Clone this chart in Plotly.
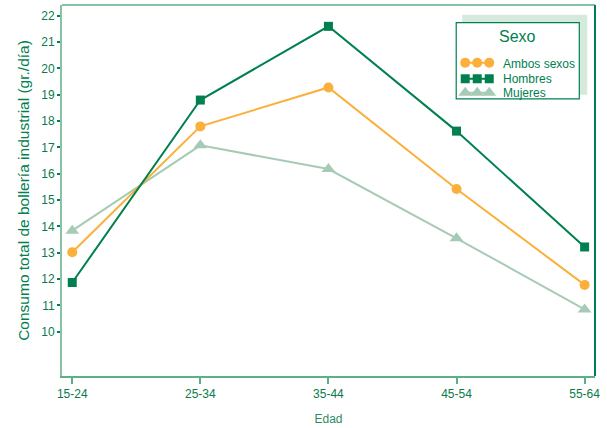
import plotly.graph_objects as go

edad = ["15-24", "25-34", "35-44", "45-54", "55-64"]
ambos = [13.02, 17.80, 19.28, 15.42, 11.78]
hombres = [11.87, 18.80, 21.60, 17.62, 13.22]
mujeres = [13.84, 17.08, 16.18, 13.55, 10.85]
yticks = [10, 11, 12, 13, 14, 15, 16, 17, 18, 19, 20, 21, 22]

DARK = "#00804F"
ORANGE = "#FBB03B"
LIGHT = "#A6CBB5"
TXT = "#0B7A4B"
FONT = "Liberation Sans, Arial, sans-serif"

xi = list(range(len(edad)))
fig = go.Figure()
fig.add_trace(go.Scatter(x=xi, y=mujeres, mode="lines+markers", name="Mujeres",
                         line=dict(color=LIGHT, width=2),
                         marker=dict(symbol="triangle-up", size=12, color=LIGHT)))
fig.add_trace(go.Scatter(x=xi, y=ambos, mode="lines+markers", name="Ambos sexos",
                         line=dict(color=ORANGE, width=2),
                         marker=dict(symbol="circle", size=10, color=ORANGE)))
fig.add_trace(go.Scatter(x=xi, y=hombres, mode="lines+markers", name="Hombres",
                         line=dict(color=DARK, width=2),
                         marker=dict(symbol="square", size=9, color=DARK)))

# custom legend glyphs on an overlay axis measured in pixels
lx = [465, 477, 489]
fig.add_trace(go.Scatter(x=lx, y=[63] * 3, xaxis="x2", yaxis="y2", mode="lines+markers",
                         line=dict(color=ORANGE, width=2),
                         marker=dict(symbol="circle", size=10, color=ORANGE), hoverinfo="skip"))
fig.add_trace(go.Scatter(x=lx, y=[79] * 3, xaxis="x2", yaxis="y2", mode="lines+markers",
                         line=dict(color=DARK, width=2),
                         marker=dict(symbol="square", size=9, color=DARK), hoverinfo="skip"))
fig.add_trace(go.Scatter(x=lx, y=[93] * 3, xaxis="x2", yaxis="y2", mode="lines+markers",
                         line=dict(color=LIGHT, width=2),
                         marker=dict(symbol="triangle-up", size=12, color=LIGHT), hoverinfo="skip"))

fig.update_layout(
    width=607, height=428,
    margin=dict(l=62, r=12, t=5, b=52),
    paper_bgcolor="white", plot_bgcolor="rgba(0,0,0,0)",
    showlegend=False,
    font=dict(family=FONT, color=TXT, size=12),
    xaxis=dict(range=[-0.08, 4.081], tickvals=xi, ticktext=edad, showgrid=False,
               zeroline=False, showline=True, linecolor="#5DAF86", linewidth=2,
               ticks="outside", ticklen=6, tickcolor="#5DAF86", tickwidth=1.5,
               tickfont=dict(size=12, color=TXT),
               title=dict(text="Edad", font=dict(size=12, color="#2E8B60"), standoff=14)),
    yaxis=dict(range=[8.32, 22.41], tickvals=yticks, showgrid=False, zeroline=False,
               showline=True, linecolor="#86C2A3", linewidth=2,
               ticks="outside", ticklen=3, tickcolor=DARK, tickwidth=2,
               tickfont=dict(size=12, color=TXT),
               title=dict(text="Consumo total de bollería industrial (gr./día)",
                          font=dict(size=15.5, color=DARK), standoff=8)),
    xaxis2=dict(range=[62, 594.7], overlaying="x", visible=False, fixedrange=True),
    yaxis2=dict(range=[376, 5.3], overlaying="y", visible=False, fixedrange=True),
    shapes=[
        dict(type="line", xref="paper", yref="paper", x0=0, x1=1, y0=1, y1=1,
             line=dict(color="#86C2A3", width=2)),
        dict(type="line", xref="paper", yref="paper", x0=1, x1=1, y0=0, y1=1,
             line=dict(color=DARK, width=2)),
        dict(type="rect", xref="x2", yref="y2", x0=462, x1=587, y0=15, y1=95,
             fillcolor="#D6E9DD", line=dict(width=0), layer="below"),
        dict(type="rect", xref="x2", yref="y2", x0=456, x1=579, y0=23, y1=99,
             fillcolor="white", line=dict(color=DARK, width=1.2), layer="below"),
    ],
    annotations=[
        dict(text="Sexo", xref="x2", yref="y2", x=517, y=37, showarrow=False,
             font=dict(size=16, color=DARK)),
        dict(text="Ambos sexos", xref="x2", yref="y2", x=501, y=64, xanchor="left",
             showarrow=False, font=dict(size=12, color=DARK)),
        dict(text="Hombres", xref="x2", yref="y2", x=501, y=79, xanchor="left",
             showarrow=False, font=dict(size=12, color=DARK)),
        dict(text="Mujeres", xref="x2", yref="y2", x=501, y=93, xanchor="left",
             showarrow=False, font=dict(size=12, color=DARK)),
    ],
)

fig.write_html("out.html", config={"displayModeBar": False},
               post_script="document.body.style.margin='0';document.body.style.overflow='hidden';")
